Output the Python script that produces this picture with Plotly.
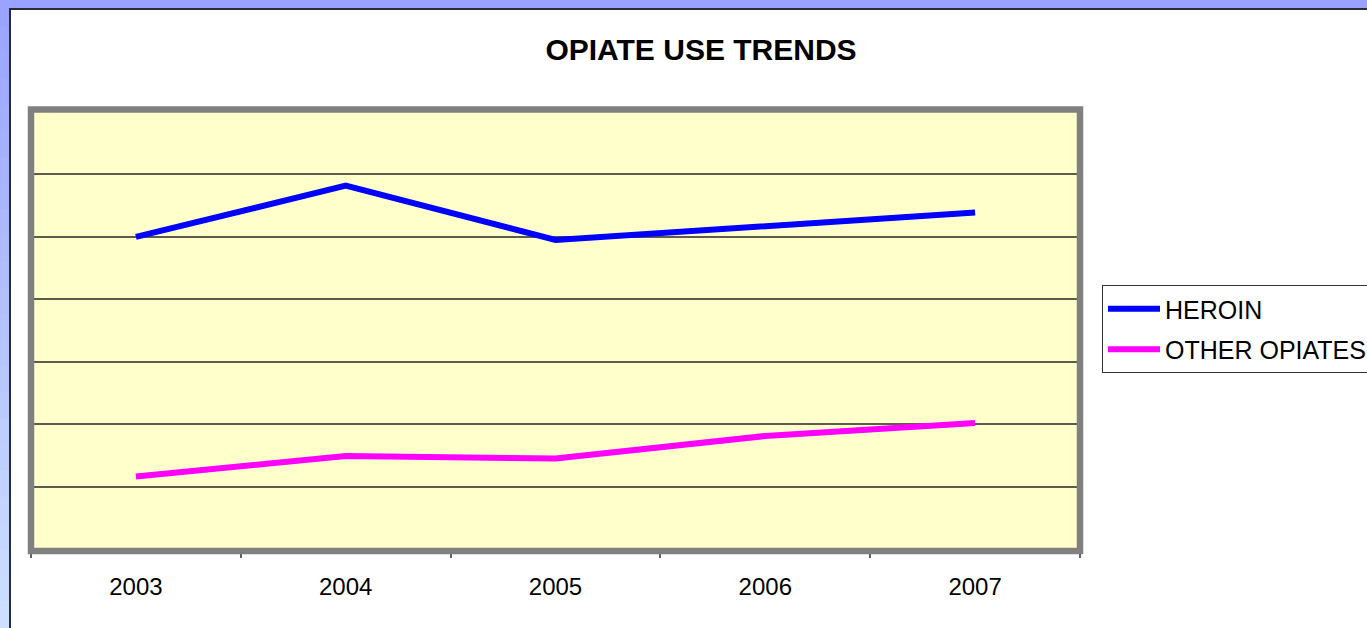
import plotly.graph_objects as go

years = ["2003", "2004", "2005", "2006", "2007"]
heroin = [50.0, 58.2, 49.5, 51.6, 53.9]
other_opiates = [11.6, 14.9, 14.5, 18.1, 20.2]

W, H = 1367, 628
L, R, T, B = 31, 1080, 112, 549  # plot area in pixels

def px_x(p):
    return (p - L) / (R - L)

def px_y(p):
    return (B - p) / (B - T)

fig = go.Figure()
fig.add_trace(go.Scatter(x=years, y=heroin, mode="lines", name="HEROIN", legendgroup="a",
                         line=dict(color="#0000FF", width=6)))
fig.add_trace(go.Scatter(x=years, y=other_opiates, mode="lines", name="OTHER OPIATES",
                         legendgroup="b", line=dict(color="#FF00FF", width=6)))

shapes = []
# blue gradient along the left strip
top_c = (153, 163, 255)
bot_c = (204, 224, 255)
n = 24
for i in range(n):
    f = (i + 0.5) / n
    c = tuple(int(round(top_c[k] + (bot_c[k] - top_c[k]) * f)) for k in range(3))
    y0 = i * H / n
    y1 = (i + 1) * H / n + 1
    shapes.append(dict(type="rect", xref="paper", yref="paper",
                       x0=px_x(-2), x1=px_x(10), y0=px_y(y1), y1=px_y(y0),
                       fillcolor="rgb(%d,%d,%d)" % c, line=dict(width=0), layer="below"))
# white panel with dark border
shapes.append(dict(type="rect", xref="paper", yref="paper",
                   x0=px_x(10), x1=px_x(W + 20), y0=px_y(H + 20), y1=px_y(9),
                   fillcolor="white", line=dict(color="#2a2a3a", width=2), layer="below"))
# yellow plot background
shapes.append(dict(type="rect", xref="paper", yref="paper",
                   x0=0, x1=1, y0=px_y(551), y1=px_y(109.5),
                   fillcolor="#FFFFCC", line=dict(width=0), layer="below"))
# gray plot border
shapes.append(dict(type="rect", xref="paper", yref="paper",
                   x0=0, x1=1, y0=px_y(551), y1=px_y(109.5),
                   fillcolor="rgba(0,0,0,0)", line=dict(color="#808080", width=6.5), layer="above"))

fig.update_layout(
    width=W, height=H,
    margin=dict(l=L, r=W - R, t=T, b=H - B),
    paper_bgcolor="rgb(153,163,255)",
    plot_bgcolor="rgba(0,0,0,0)",
    font=dict(family="Liberation Sans, Arial, sans-serif", color="black"),
    title=dict(text="<b>OPIATE USE TRENDS</b>", x=701 / W, xref="container", xanchor="center",
               y=1 - 49 / H, yref="container", yanchor="middle",
               font=dict(size=30, color="black")),
    shapes=shapes,
    showlegend=True,
    legend=dict(x=1102 / W, y=1 - 285 / H, xref="container", yref="container",
                xanchor="left", yanchor="top", bgcolor="white",
                bordercolor="#333333", borderwidth=1,
                font=dict(size=25, color="black"), itemwidth=52,
                traceorder="grouped", tracegroupgap=5),
    xaxis=dict(type="category", range=[-0.5, 4.5], showgrid=False, zeroline=False,
               showline=False, ticks="outside", tickson="boundaries", ticklen=8,
               tickcolor="#606060", tickwidth=1.5, ticklabelstandoff=21,
               tickfont=dict(size=24, color="black"), fixedrange=True),
    yaxis=dict(range=[0, 70], dtick=10, showgrid=True, gridcolor="#5c5c4a", gridwidth=1.5,
               zeroline=False, showticklabels=False, ticks="", showline=False, fixedrange=True),
)

fig.write_html("out.html", config={"displayModeBar": False},
               post_script="document.body.style.margin='0';document.body.style.overflow='hidden';")
